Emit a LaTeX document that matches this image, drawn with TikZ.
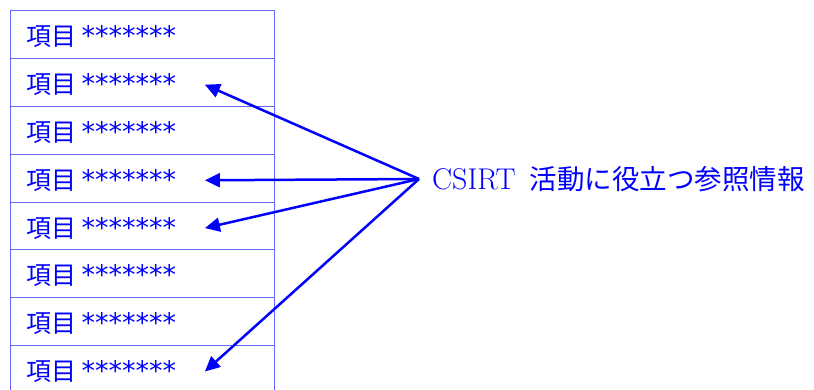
\documentclass[tikz,border=0pt]{standalone}
\usepackage{fontspec}
\newfontfamily\cjk{Noto Sans CJK JP}
\newfontfamily\sym{DejaVu Sans}
\usetikzlibrary{arrows.meta}
\begin{document}
\begin{tikzpicture}[x=1pt,y=-1pt]
  \useasboundingbox (0,0) rectangle (814,390);
  \begin{scope}[every node/.style={draw=blue!60,line width=1pt,minimum width=264pt,minimum height=47.8pt,inner sep=0pt}]
  \foreach \i in {1,...,8}
    \node (r\i) at (142,{11+47.8*(\i-0.5)}) {};
  \end{scope}
  \begin{scope}[every node/.style={text=blue,font=\fontsize{25}{25}\selectfont,anchor=west,inner sep=0pt,text width=178pt}]
  \foreach \i in {1,...,8}
    \node (t\i) at ([xshift=17pt,yshift=-2pt]r\i.west) {{\cjk 項目}\hspace{5pt}{\sym\fontsize{27}{27}\selectfont *******}};
  \end{scope}
  \node[text=blue,font=\fontsize{30}{30}\selectfont,anchor=west,inner xsep=13pt] (src) at (419,179) {CSIRT\hspace{14pt}{\cjk\fontsize{27.5}{27.5}\selectfont 活動に役立つ参照情報}};
  \begin{scope}[every edge/.style={draw=blue,line width=2.5pt,-{Triangle[length=15pt,width=14pt]}}]
  \path (src.west) edge (t2.east);
  \path (src.west) edge (t4.east);
  \path (src.west) edge (t5.east);
  \path (src.west) edge (t8.east);
  \end{scope}
\end{tikzpicture}
\end{document}
